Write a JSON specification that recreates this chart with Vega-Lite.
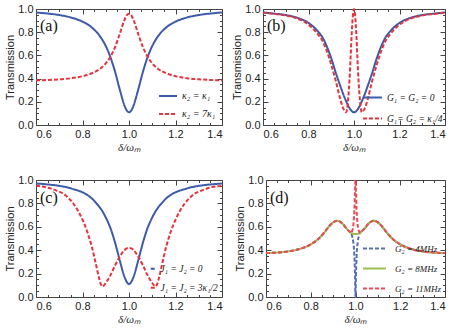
{
"$schema":"https://vega.github.io/schema/vega-lite/v6.json",
"padding":{"left":4,"top":2,"right":0,"bottom":0},
"config":{"view":{"stroke":"#444","strokeWidth":1},"font":"Liberation Sans",
 "axis":{"grid":false,"domain":false,"labelFont":"Liberation Sans","labelFontSize":11,"labelColor":"#222","tickColor":"#444","titleFont":"Liberation Sans","titleFontSize":11,"titleFontWeight":"normal","titleColor":"#222","labelPadding":8},
 "legend":{"labelFont":"Liberation Serif","labelFontStyle":"italic","labelColor":"#222","symbolType":"stroke","symbolStrokeWidth":2,"orient":"bottom-right","title":null}},
"datasets":{
"a":[
{"x":0.6,"κ₂ = κ₁":0.970,"κ₂ = 7κ₁":0.384},{"x":0.65,"κ₂ = κ₁":0.961,"κ₂ = 7κ₁":0.388},{"x":0.7,"κ₂ = κ₁":0.948,"κ₂ = 7κ₁":0.394},{"x":0.75,"κ₂ = κ₁":0.927,"κ₂ = 7κ₁":0.403},{"x":0.8,"κ₂ = κ₁":0.891,"κ₂ = 7κ₁":0.421},{"x":0.84,"κ₂ = κ₁":0.841,"κ₂ = 7κ₁":0.446},{"x":0.88,"κ₂ = κ₁":0.751,"κ₂ = 7κ₁":0.492},{"x":0.9,"κ₂ = κ₁":0.681,"κ₂ = 7κ₁":0.531},{"x":0.92,"κ₂ = κ₁":0.585,"κ₂ = 7κ₁":0.588},{"x":0.94,"κ₂ = κ₁":0.459,"κ₂ = 7κ₁":0.671},{"x":0.96,"κ₂ = κ₁":0.308,"κ₂ = 7κ₁":0.784},{"x":0.98,"κ₂ = κ₁":0.170,"κ₂ = 7κ₁":0.903},{"x":0.99,"κ₂ = κ₁":0.126,"κ₂ = 7κ₁":0.945},{"x":1.0,"κ₂ = κ₁":0.110,"κ₂ = 7κ₁":0.960},
{"x":1.01,"κ₂ = κ₁":0.126,"κ₂ = 7κ₁":0.945},{"x":1.02,"κ₂ = κ₁":0.170,"κ₂ = 7κ₁":0.903},{"x":1.04,"κ₂ = κ₁":0.308,"κ₂ = 7κ₁":0.784},{"x":1.06,"κ₂ = κ₁":0.459,"κ₂ = 7κ₁":0.671},{"x":1.08,"κ₂ = κ₁":0.585,"κ₂ = 7κ₁":0.588},{"x":1.1,"κ₂ = κ₁":0.681,"κ₂ = 7κ₁":0.531},{"x":1.12,"κ₂ = κ₁":0.751,"κ₂ = 7κ₁":0.492},{"x":1.16,"κ₂ = κ₁":0.841,"κ₂ = 7κ₁":0.446},{"x":1.2,"κ₂ = κ₁":0.891,"κ₂ = 7κ₁":0.421},{"x":1.25,"κ₂ = κ₁":0.927,"κ₂ = 7κ₁":0.403},{"x":1.3,"κ₂ = κ₁":0.948,"κ₂ = 7κ₁":0.394},{"x":1.35,"κ₂ = κ₁":0.961,"κ₂ = 7κ₁":0.388},{"x":1.4,"κ₂ = κ₁":0.970,"κ₂ = 7κ₁":0.384}
],
"b":[
{"x":0.6,"G₁ = G₂ = 0":0.97,"G₁= G₂ = κ₁/4":0.968},{"x":0.65,"G₁ = G₂ = 0":0.96,"G₁= G₂ = κ₁/4":0.957},{"x":0.7,"G₁ = G₂ = 0":0.948,"G₁= G₂ = κ₁/4":0.944},{"x":0.75,"G₁ = G₂ = 0":0.925,"G₁= G₂ = κ₁/4":0.918},{"x":0.8,"G₁ = G₂ = 0":0.88,"G₁= G₂ = κ₁/4":0.865},{"x":0.84,"G₁ = G₂ = 0":0.81,"G₁= G₂ = κ₁/4":0.785},{"x":0.86,"G₁ = G₂ = 0":0.76,"G₁= G₂ = κ₁/4":0.73},{"x":0.88,"G₁ = G₂ = 0":0.68,"G₁= G₂ = κ₁/4":0.64},{"x":0.9,"G₁ = G₂ = 0":0.575,"G₁= G₂ = κ₁/4":0.52},{"x":0.92,"G₁ = G₂ = 0":0.45,"G₁= G₂ = κ₁/4":0.38},{"x":0.94,"G₁ = G₂ = 0":0.335,"G₁= G₂ = κ₁/4":0.22},{"x":0.95,"G₁ = G₂ = 0":0.28,"G₁= G₂ = κ₁/4":0.155},{"x":0.96,"G₁ = G₂ = 0":0.23,"G₁= G₂ = κ₁/4":0.118},{"x":0.965,"G₁ = G₂ = 0":0.207,"G₁= G₂ = κ₁/4":0.11},{"x":0.97,"G₁ = G₂ = 0":0.185,"G₁= G₂ = κ₁/4":0.14},{"x":0.975,"G₁ = G₂ = 0":0.165,"G₁= G₂ = κ₁/4":0.24},{"x":0.98,"G₁ = G₂ = 0":0.146,"G₁= G₂ = κ₁/4":0.38},{"x":0.985,"G₁ = G₂ = 0":0.132,"G₁= G₂ = κ₁/4":0.58},{"x":0.99,"G₁ = G₂ = 0":0.12,"G₁= G₂ = κ₁/4":0.79},{"x":0.995,"G₁ = G₂ = 0":0.112,"G₁= G₂ = κ₁/4":0.94},{"x":1.0,"G₁ = G₂ = 0":0.11,"G₁= G₂ = κ₁/4":1.0},
{"x":1.005,"G₁ = G₂ = 0":0.112,"G₁= G₂ = κ₁/4":0.94},{"x":1.01,"G₁ = G₂ = 0":0.12,"G₁= G₂ = κ₁/4":0.79},{"x":1.015,"G₁ = G₂ = 0":0.132,"G₁= G₂ = κ₁/4":0.58},{"x":1.02,"G₁ = G₂ = 0":0.146,"G₁= G₂ = κ₁/4":0.38},{"x":1.025,"G₁ = G₂ = 0":0.165,"G₁= G₂ = κ₁/4":0.24},{"x":1.03,"G₁ = G₂ = 0":0.185,"G₁= G₂ = κ₁/4":0.14},{"x":1.035,"G₁ = G₂ = 0":0.207,"G₁= G₂ = κ₁/4":0.11},{"x":1.04,"G₁ = G₂ = 0":0.23,"G₁= G₂ = κ₁/4":0.118},{"x":1.05,"G₁ = G₂ = 0":0.28,"G₁= G₂ = κ₁/4":0.155},{"x":1.06,"G₁ = G₂ = 0":0.335,"G₁= G₂ = κ₁/4":0.22},{"x":1.08,"G₁ = G₂ = 0":0.45,"G₁= G₂ = κ₁/4":0.38},{"x":1.1,"G₁ = G₂ = 0":0.575,"G₁= G₂ = κ₁/4":0.52},{"x":1.12,"G₁ = G₂ = 0":0.68,"G₁= G₂ = κ₁/4":0.64},{"x":1.14,"G₁ = G₂ = 0":0.76,"G₁= G₂ = κ₁/4":0.73},{"x":1.16,"G₁ = G₂ = 0":0.81,"G₁= G₂ = κ₁/4":0.785},{"x":1.2,"G₁ = G₂ = 0":0.88,"G₁= G₂ = κ₁/4":0.865},{"x":1.25,"G₁ = G₂ = 0":0.925,"G₁= G₂ = κ₁/4":0.918},{"x":1.3,"G₁ = G₂ = 0":0.948,"G₁= G₂ = κ₁/4":0.944},{"x":1.35,"G₁ = G₂ = 0":0.96,"G₁= G₂ = κ₁/4":0.957},{"x":1.4,"G₁ = G₂ = 0":0.97,"G₁= G₂ = κ₁/4":0.968}
],
"c":[
{"x":0.6,"J₁ = J₂ = 0":0.97,"J₁ = J₂ = 3κ₁/2":0.95},{"x":0.65,"J₁ = J₂ = 0":0.962,"J₁ = J₂ = 3κ₁/2":0.935},{"x":0.7,"J₁ = J₂ = 0":0.95,"J₁ = J₂ = 3κ₁/2":0.9},{"x":0.72,"J₁ = J₂ = 0":0.943,"J₁ = J₂ = 3κ₁/2":0.88},{"x":0.74,"J₁ = J₂ = 0":0.934,"J₁ = J₂ = 3κ₁/2":0.845},{"x":0.76,"J₁ = J₂ = 0":0.922,"J₁ = J₂ = 3κ₁/2":0.8},{"x":0.78,"J₁ = J₂ = 0":0.91,"J₁ = J₂ = 3κ₁/2":0.74},{"x":0.8,"J₁ = J₂ = 0":0.895,"J₁ = J₂ = 3κ₁/2":0.66},{"x":0.82,"J₁ = J₂ = 0":0.873,"J₁ = J₂ = 3κ₁/2":0.56},{"x":0.84,"J₁ = J₂ = 0":0.843,"J₁ = J₂ = 3κ₁/2":0.43},{"x":0.86,"J₁ = J₂ = 0":0.8,"J₁ = J₂ = 3κ₁/2":0.26},{"x":0.87,"J₁ = J₂ = 0":0.777,"J₁ = J₂ = 3κ₁/2":0.17},{"x":0.88,"J₁ = J₂ = 0":0.75,"J₁ = J₂ = 3κ₁/2":0.105},{"x":0.885,"J₁ = J₂ = 0":0.735,"J₁ = J₂ = 3κ₁/2":0.09},{"x":0.89,"J₁ = J₂ = 0":0.718,"J₁ = J₂ = 3κ₁/2":0.095},{"x":0.9,"J₁ = J₂ = 0":0.68,"J₁ = J₂ = 3κ₁/2":0.12},{"x":0.91,"J₁ = J₂ = 0":0.638,"J₁ = J₂ = 3κ₁/2":0.15},{"x":0.92,"J₁ = J₂ = 0":0.59,"J₁ = J₂ = 3κ₁/2":0.185},{"x":0.94,"J₁ = J₂ = 0":0.465,"J₁ = J₂ = 3κ₁/2":0.27},{"x":0.96,"J₁ = J₂ = 0":0.315,"J₁ = J₂ = 3κ₁/2":0.345},{"x":0.98,"J₁ = J₂ = 0":0.175,"J₁ = J₂ = 3κ₁/2":0.4},{"x":0.99,"J₁ = J₂ = 0":0.13,"J₁ = J₂ = 3κ₁/2":0.415},{"x":1.0,"J₁ = J₂ = 0":0.11,"J₁ = J₂ = 3κ₁/2":0.42},
{"x":1.01,"J₁ = J₂ = 0":0.13,"J₁ = J₂ = 3κ₁/2":0.415},{"x":1.02,"J₁ = J₂ = 0":0.175,"J₁ = J₂ = 3κ₁/2":0.4},{"x":1.04,"J₁ = J₂ = 0":0.315,"J₁ = J₂ = 3κ₁/2":0.345},{"x":1.06,"J₁ = J₂ = 0":0.465,"J₁ = J₂ = 3κ₁/2":0.27},{"x":1.08,"J₁ = J₂ = 0":0.59,"J₁ = J₂ = 3κ₁/2":0.185},{"x":1.09,"J₁ = J₂ = 0":0.638,"J₁ = J₂ = 3κ₁/2":0.15},{"x":1.1,"J₁ = J₂ = 0":0.68,"J₁ = J₂ = 3κ₁/2":0.12},{"x":1.11,"J₁ = J₂ = 0":0.718,"J₁ = J₂ = 3κ₁/2":0.095},{"x":1.115,"J₁ = J₂ = 0":0.735,"J₁ = J₂ = 3κ₁/2":0.09},{"x":1.12,"J₁ = J₂ = 0":0.75,"J₁ = J₂ = 3κ₁/2":0.105},{"x":1.13,"J₁ = J₂ = 0":0.777,"J₁ = J₂ = 3κ₁/2":0.17},{"x":1.14,"J₁ = J₂ = 0":0.8,"J₁ = J₂ = 3κ₁/2":0.26},{"x":1.16,"J₁ = J₂ = 0":0.843,"J₁ = J₂ = 3κ₁/2":0.43},{"x":1.18,"J₁ = J₂ = 0":0.873,"J₁ = J₂ = 3κ₁/2":0.56},{"x":1.2,"J₁ = J₂ = 0":0.895,"J₁ = J₂ = 3κ₁/2":0.66},{"x":1.22,"J₁ = J₂ = 0":0.91,"J₁ = J₂ = 3κ₁/2":0.74},{"x":1.24,"J₁ = J₂ = 0":0.922,"J₁ = J₂ = 3κ₁/2":0.8},{"x":1.26,"J₁ = J₂ = 0":0.934,"J₁ = J₂ = 3κ₁/2":0.845},{"x":1.28,"J₁ = J₂ = 0":0.943,"J₁ = J₂ = 3κ₁/2":0.88},{"x":1.3,"J₁ = J₂ = 0":0.95,"J₁ = J₂ = 3κ₁/2":0.9},{"x":1.35,"J₁ = J₂ = 0":0.962,"J₁ = J₂ = 3κ₁/2":0.935},{"x":1.4,"J₁ = J₂ = 0":0.97,"J₁ = J₂ = 3κ₁/2":0.95}
],
"d":[
{"x":0.6,"G₂ = 4MHz":0.375,"G₂ = 8MHz":0.375,"G₂ = 11MHz":0.375},{"x":0.65,"G₂ = 4MHz":0.38,"G₂ = 8MHz":0.38,"G₂ = 11MHz":0.38},{"x":0.7,"G₂ = 4MHz":0.39,"G₂ = 8MHz":0.39,"G₂ = 11MHz":0.39},{"x":0.75,"G₂ = 4MHz":0.41,"G₂ = 8MHz":0.41,"G₂ = 11MHz":0.41},{"x":0.8,"G₂ = 4MHz":0.45,"G₂ = 8MHz":0.45,"G₂ = 11MHz":0.45},{"x":0.83,"G₂ = 4MHz":0.49,"G₂ = 8MHz":0.49,"G₂ = 11MHz":0.49},{"x":0.86,"G₂ = 4MHz":0.55,"G₂ = 8MHz":0.55,"G₂ = 11MHz":0.55},{"x":0.88,"G₂ = 4MHz":0.6,"G₂ = 8MHz":0.6,"G₂ = 11MHz":0.6},{"x":0.9,"G₂ = 4MHz":0.638,"G₂ = 8MHz":0.638,"G₂ = 11MHz":0.638},{"x":0.92,"G₂ = 4MHz":0.652,"G₂ = 8MHz":0.652,"G₂ = 11MHz":0.652},{"x":0.94,"G₂ = 4MHz":0.63,"G₂ = 8MHz":0.63,"G₂ = 11MHz":0.63},{"x":0.96,"G₂ = 4MHz":0.585,"G₂ = 8MHz":0.585,"G₂ = 11MHz":0.585},{"x":0.97,"G₂ = 4MHz":0.565,"G₂ = 8MHz":0.565,"G₂ = 11MHz":0.565},{"x":0.98,"G₂ = 4MHz":0.548,"G₂ = 8MHz":0.548,"G₂ = 11MHz":0.548},{"x":0.985,"G₂ = 4MHz":0.52,"G₂ = 8MHz":0.543,"G₂ = 11MHz":0.565},{"x":0.99,"G₂ = 4MHz":0.47,"G₂ = 8MHz":0.54,"G₂ = 11MHz":0.61},{"x":0.995,"G₂ = 4MHz":0.35,"G₂ = 8MHz":0.539,"G₂ = 11MHz":0.74},{"x":0.998,"G₂ = 4MHz":0.17,"G₂ = 8MHz":0.538,"G₂ = 11MHz":0.9},{"x":1.0,"G₂ = 4MHz":0.0,"G₂ = 8MHz":0.538,"G₂ = 11MHz":1.0},
{"x":1.002,"G₂ = 4MHz":0.17,"G₂ = 8MHz":0.538,"G₂ = 11MHz":0.9},{"x":1.005,"G₂ = 4MHz":0.35,"G₂ = 8MHz":0.539,"G₂ = 11MHz":0.74},{"x":1.01,"G₂ = 4MHz":0.47,"G₂ = 8MHz":0.54,"G₂ = 11MHz":0.61},{"x":1.015,"G₂ = 4MHz":0.52,"G₂ = 8MHz":0.543,"G₂ = 11MHz":0.565},{"x":1.02,"G₂ = 4MHz":0.548,"G₂ = 8MHz":0.548,"G₂ = 11MHz":0.548},{"x":1.03,"G₂ = 4MHz":0.565,"G₂ = 8MHz":0.565,"G₂ = 11MHz":0.565},{"x":1.04,"G₂ = 4MHz":0.585,"G₂ = 8MHz":0.585,"G₂ = 11MHz":0.585},{"x":1.06,"G₂ = 4MHz":0.63,"G₂ = 8MHz":0.63,"G₂ = 11MHz":0.63},{"x":1.08,"G₂ = 4MHz":0.652,"G₂ = 8MHz":0.652,"G₂ = 11MHz":0.652},{"x":1.1,"G₂ = 4MHz":0.638,"G₂ = 8MHz":0.638,"G₂ = 11MHz":0.638},{"x":1.12,"G₂ = 4MHz":0.6,"G₂ = 8MHz":0.6,"G₂ = 11MHz":0.6},{"x":1.14,"G₂ = 4MHz":0.55,"G₂ = 8MHz":0.55,"G₂ = 11MHz":0.55},{"x":1.17,"G₂ = 4MHz":0.49,"G₂ = 8MHz":0.49,"G₂ = 11MHz":0.49},{"x":1.2,"G₂ = 4MHz":0.45,"G₂ = 8MHz":0.45,"G₂ = 11MHz":0.45},{"x":1.25,"G₂ = 4MHz":0.41,"G₂ = 8MHz":0.41,"G₂ = 11MHz":0.41},{"x":1.3,"G₂ = 4MHz":0.39,"G₂ = 8MHz":0.39,"G₂ = 11MHz":0.39},{"x":1.35,"G₂ = 4MHz":0.38,"G₂ = 8MHz":0.38,"G₂ = 11MHz":0.38},{"x":1.4,"G₂ = 4MHz":0.375,"G₂ = 8MHz":0.375,"G₂ = 11MHz":0.375}
],
"labels":[{"p":"a","x":0.6,"y":0.85,"t":"(a)"},{"p":"b","x":0.6,"y":0.85,"t":"(b)"},{"p":"c","x":0.6,"y":0.85,"t":"(c)"},{"p":"d","x":0.6,"y":0.85,"t":"(d)"}]
},
"resolve":{"scale":{"color":"independent","strokeDash":"independent"},"legend":{"color":"independent","strokeDash":"independent"}},
"spacing":20,
"vconcat":[
{"hconcat":[
 {"width":186,"height":116,
  "layer":[
   {"data":{"name":"a"},"transform":[{"fold":["κ₂ = κ₁","κ₂ = 7κ₁"],"as":["s","y"]}],
    "mark":{"type":"line","strokeWidth":2,"interpolate":"monotone"},
    "encoding":{
     "x":{"field":"x","type":"quantitative","scale":{"domain":[0.6,1.4],"nice":false,"zero":false},"axis":{"orient":"bottom","values":[0.6,0.65,0.7,0.75,0.8,0.85,0.9,0.95,1,1.05,1.1,1.15,1.2,1.25,1.3,1.35,1.4],"labelExpr":"abs(datum.value*5-round(datum.value*5))<0.001 ? format(datum.value,'.1f') : ''","tickSize":{"condition":{"test":"abs(datum.value*5-round(datum.value*5))<0.001","value":-5},"value":-2.5},"title":"δ/ωₘ","titleFont":"Liberation Serif","titleFontStyle":"italic","titlePadding":2}},
     "y":{"field":"y","type":"quantitative","scale":{"domain":[0,1],"nice":false},"axis":{"orient":"left","values":[0,0.05,0.1,0.15,0.2,0.25,0.3,0.35,0.4,0.45,0.5,0.55,0.6,0.65,0.7,0.75,0.8,0.85,0.9,0.95,1],"labelExpr":"abs(datum.value*5-round(datum.value*5))<0.001 ? format(datum.value,'.1f') : ''","tickSize":{"condition":{"test":"abs(datum.value*5-round(datum.value*5))<0.001","value":-5},"value":-2.5},"title":"Transmission","titlePadding":2}},
     "color":{"field":"s","type":"nominal","scale":{"domain":["κ₂ = κ₁","κ₂ = 7κ₁"],"range":["#3D5BA9","#E8323C"]},"legend":{"labelFontSize":10,"symbolSize":324,"rowPadding":3,"offset":6,"labelOffset":4}},
     "strokeDash":{"field":"s","type":"nominal","scale":{"domain":["κ₂ = κ₁","κ₂ = 7κ₁"],"range":[[1,0],[4,2]]},"legend":{"labelFontSize":10,"symbolSize":324,"rowPadding":3,"offset":6,"labelOffset":4}}
    }},
   {"data":{"name":"labels"},"transform":[{"filter":"datum.p=='a'"}],
    "mark":{"type":"text","align":"left","dx":4,"font":"Liberation Serif","fontSize":16,"color":"#111"},
    "encoding":{
     "x":{"field":"x","type":"quantitative","axis":{"orient":"top","values":[0.6,0.65,0.7,0.75,0.8,0.85,0.9,0.95,1,1.05,1.1,1.15,1.2,1.25,1.3,1.35,1.4],"labels":false,"title":null,"tickSize":{"condition":{"test":"abs(datum.value*5-round(datum.value*5))<0.001","value":-5},"value":-2.5}}},
     "y":{"field":"y","type":"quantitative","axis":{"orient":"right","values":[0,0.05,0.1,0.15,0.2,0.25,0.3,0.35,0.4,0.45,0.5,0.55,0.6,0.65,0.7,0.75,0.8,0.85,0.9,0.95,1],"labels":false,"title":null,"tickSize":{"condition":{"test":"abs(datum.value*5-round(datum.value*5))<0.001","value":-5},"value":-2.5}}},
     "text":{"field":"t"}}}
  ]},
 {"width":182,"height":116,
  "layer":[
   {"data":{"name":"b"},"transform":[{"fold":["G₁ = G₂ = 0","G₁= G₂ = κ₁/4"],"as":["s","y"]}],
    "mark":{"type":"line","strokeWidth":2,"interpolate":"monotone"},
    "encoding":{
     "x":{"field":"x","type":"quantitative","scale":{"domain":[0.6,1.4],"nice":false,"zero":false},"axis":{"orient":"bottom","values":[0.6,0.65,0.7,0.75,0.8,0.85,0.9,0.95,1,1.05,1.1,1.15,1.2,1.25,1.3,1.35,1.4],"labelExpr":"abs(datum.value*5-round(datum.value*5))<0.001 ? format(datum.value,'.1f') : ''","tickSize":{"condition":{"test":"abs(datum.value*5-round(datum.value*5))<0.001","value":-5},"value":-2.5},"title":"δ/ωₘ","titleFont":"Liberation Serif","titleFontStyle":"italic","titlePadding":2}},
     "y":{"field":"y","type":"quantitative","scale":{"domain":[0,1],"nice":false},"axis":{"orient":"left","values":[0,0.05,0.1,0.15,0.2,0.25,0.3,0.35,0.4,0.45,0.5,0.55,0.6,0.65,0.7,0.75,0.8,0.85,0.9,0.95,1],"labelExpr":"abs(datum.value*5-round(datum.value*5))<0.001 ? format(datum.value,'.1f') : ''","tickSize":{"condition":{"test":"abs(datum.value*5-round(datum.value*5))<0.001","value":-5},"value":-2.5},"title":"Transmission","titlePadding":2}},
     "color":{"field":"s","type":"nominal","scale":{"domain":["G₁ = G₂ = 0","G₁= G₂ = κ₁/4"],"range":["#3D5BA9","#E8323C"]},"legend":{"labelFontSize":9.5,"symbolSize":361,"rowPadding":6,"offset":2,"labelOffset":4}},
     "strokeDash":{"field":"s","type":"nominal","scale":{"domain":["G₁ = G₂ = 0","G₁= G₂ = κ₁/4"],"range":[[1,0],[4,2]]},"legend":{"labelFontSize":9.5,"symbolSize":361,"rowPadding":6,"offset":2,"labelOffset":4}}
    }},
   {"data":{"name":"labels"},"transform":[{"filter":"datum.p=='b'"}],
    "mark":{"type":"text","align":"left","dx":4,"font":"Liberation Serif","fontSize":16,"color":"#111"},
    "encoding":{
     "x":{"field":"x","type":"quantitative","axis":{"orient":"top","values":[0.6,0.65,0.7,0.75,0.8,0.85,0.9,0.95,1,1.05,1.1,1.15,1.2,1.25,1.3,1.35,1.4],"labels":false,"title":null,"tickSize":{"condition":{"test":"abs(datum.value*5-round(datum.value*5))<0.001","value":-5},"value":-2.5}}},
     "y":{"field":"y","type":"quantitative","axis":{"orient":"right","values":[0,0.05,0.1,0.15,0.2,0.25,0.3,0.35,0.4,0.45,0.5,0.55,0.6,0.65,0.7,0.75,0.8,0.85,0.9,0.95,1],"labels":false,"title":null,"tickSize":{"condition":{"test":"abs(datum.value*5-round(datum.value*5))<0.001","value":-5},"value":-2.5}}},
     "text":{"field":"t"}}}
  ]}
 ],"spacing":4,
 "resolve":{"scale":{"color":"independent","strokeDash":"independent"},"legend":{"color":"independent","strokeDash":"independent"}}},
{"hconcat":[
 {"width":186,"height":117,
  "layer":[
   {"data":{"name":"c"},"transform":[{"fold":["J₁ = J₂ = 0","J₁ = J₂ = 3κ₁/2"],"as":["s","y"]}],
    "mark":{"type":"line","strokeWidth":2,"interpolate":"monotone"},
    "encoding":{
     "x":{"field":"x","type":"quantitative","scale":{"domain":[0.6,1.4],"nice":false,"zero":false},"axis":{"orient":"bottom","values":[0.6,0.65,0.7,0.75,0.8,0.85,0.9,0.95,1,1.05,1.1,1.15,1.2,1.25,1.3,1.35,1.4],"labelExpr":"abs(datum.value*5-round(datum.value*5))<0.001 ? format(datum.value,'.1f') : ''","tickSize":{"condition":{"test":"abs(datum.value*5-round(datum.value*5))<0.001","value":-5},"value":-2.5},"title":"δ/ωₘ","titleFont":"Liberation Serif","titleFontStyle":"italic","titlePadding":2}},
     "y":{"field":"y","type":"quantitative","scale":{"domain":[0,1],"nice":false},"axis":{"orient":"left","values":[0,0.05,0.1,0.15,0.2,0.25,0.3,0.35,0.4,0.45,0.5,0.55,0.6,0.65,0.7,0.75,0.8,0.85,0.9,0.95,1],"labelExpr":"abs(datum.value*5-round(datum.value*5))<0.001 ? format(datum.value,'.1f') : ''","tickSize":{"condition":{"test":"abs(datum.value*5-round(datum.value*5))<0.001","value":-5},"value":-2.5},"title":"Transmission","titlePadding":2}},
     "color":{"field":"s","type":"nominal","scale":{"domain":["J₁ = J₂ = 0","J₁ = J₂ = 3κ₁/2"],"range":["#3D5BA9","#E8323C"]},"legend":{"labelFontSize":9.5,"symbolSize":16,"rowPadding":8,"offset":4,"labelOffset":3}},
     "strokeDash":{"field":"s","type":"nominal","scale":{"domain":["J₁ = J₂ = 0","J₁ = J₂ = 3κ₁/2"],"range":[[1,0],[4,2]]},"legend":{"labelFontSize":9.5,"symbolSize":16,"rowPadding":8,"offset":4,"labelOffset":3}}
    }},
   {"data":{"name":"labels"},"transform":[{"filter":"datum.p=='c'"}],
    "mark":{"type":"text","align":"left","dx":4,"font":"Liberation Serif","fontSize":16,"color":"#111"},
    "encoding":{
     "x":{"field":"x","type":"quantitative","axis":{"orient":"top","values":[0.6,0.65,0.7,0.75,0.8,0.85,0.9,0.95,1,1.05,1.1,1.15,1.2,1.25,1.3,1.35,1.4],"labels":false,"title":null,"tickSize":{"condition":{"test":"abs(datum.value*5-round(datum.value*5))<0.001","value":-5},"value":-2.5}}},
     "y":{"field":"y","type":"quantitative","axis":{"orient":"right","values":[0,0.05,0.1,0.15,0.2,0.25,0.3,0.35,0.4,0.45,0.5,0.55,0.6,0.65,0.7,0.75,0.8,0.85,0.9,0.95,1],"labels":false,"title":null,"tickSize":{"condition":{"test":"abs(datum.value*5-round(datum.value*5))<0.001","value":-5},"value":-2.5}}},
     "text":{"field":"t"}}}
  ]},
 {"width":179,"height":117,
  "layer":[
   {"data":{"name":"d"},"transform":[{"fold":["G₂ = 4MHz","G₂ = 8MHz","G₂ = 11MHz"],"as":["s","y"]}],
    "mark":{"type":"line","strokeWidth":2,"interpolate":"monotone"},
    "encoding":{
     "x":{"field":"x","type":"quantitative","scale":{"domain":[0.6,1.4],"nice":false,"zero":false},"axis":{"orient":"bottom","values":[0.6,0.65,0.7,0.75,0.8,0.85,0.9,0.95,1,1.05,1.1,1.15,1.2,1.25,1.3,1.35,1.4],"labelExpr":"abs(datum.value*5-round(datum.value*5))<0.001 ? format(datum.value,'.1f') : ''","tickSize":{"condition":{"test":"abs(datum.value*5-round(datum.value*5))<0.001","value":-5},"value":-2.5},"title":"δ/ωₘ","titleFont":"Liberation Serif","titleFontStyle":"italic","titlePadding":2}},
     "y":{"field":"y","type":"quantitative","scale":{"domain":[0,1],"nice":false},"axis":{"orient":"left","values":[0,0.05,0.1,0.15,0.2,0.25,0.3,0.35,0.4,0.45,0.5,0.55,0.6,0.65,0.7,0.75,0.8,0.85,0.9,0.95,1],"labelExpr":"abs(datum.value*5-round(datum.value*5))<0.001 ? format(datum.value,'.1f') : ''","tickSize":{"condition":{"test":"abs(datum.value*5-round(datum.value*5))<0.001","value":-5},"value":-2.5},"title":"Transmission","titlePadding":2}},
     "color":{"field":"s","type":"nominal","scale":{"domain":["G₂ = 4MHz","G₂ = 8MHz","G₂ = 11MHz"],"range":["#5670B8","#9ABF4E","#EE4A55"]},"legend":{"labelFontSize":9,"symbolSize":529,"rowPadding":2,"offset":3,"labelOffset":8}},
     "strokeDash":{"field":"s","type":"nominal","scale":{"domain":["G₂ = 4MHz","G₂ = 8MHz","G₂ = 11MHz"],"range":[[4,2],[1,0],[4,2]]},"legend":{"labelFontSize":9,"symbolSize":529,"rowPadding":2,"offset":3,"labelOffset":8}}
    }},
   {"data":{"name":"labels"},"transform":[{"filter":"datum.p=='d'"}],
    "mark":{"type":"text","align":"left","dx":4,"font":"Liberation Serif","fontSize":16,"color":"#111"},
    "encoding":{
     "x":{"field":"x","type":"quantitative","axis":{"orient":"top","values":[0.6,0.65,0.7,0.75,0.8,0.85,0.9,0.95,1,1.05,1.1,1.15,1.2,1.25,1.3,1.35,1.4],"labels":false,"title":null,"tickSize":{"condition":{"test":"abs(datum.value*5-round(datum.value*5))<0.001","value":-5},"value":-2.5}}},
     "y":{"field":"y","type":"quantitative","axis":{"orient":"right","values":[0,0.05,0.1,0.15,0.2,0.25,0.3,0.35,0.4,0.45,0.5,0.55,0.6,0.65,0.7,0.75,0.8,0.85,0.9,0.95,1],"labels":false,"title":null,"tickSize":{"condition":{"test":"abs(datum.value*5-round(datum.value*5))<0.001","value":-5},"value":-2.5}}},
     "text":{"field":"t"}}}
  ]}
 ],"spacing":7,
 "resolve":{"scale":{"color":"independent","strokeDash":"independent"},"legend":{"color":"independent","strokeDash":"independent"}}}
]}
